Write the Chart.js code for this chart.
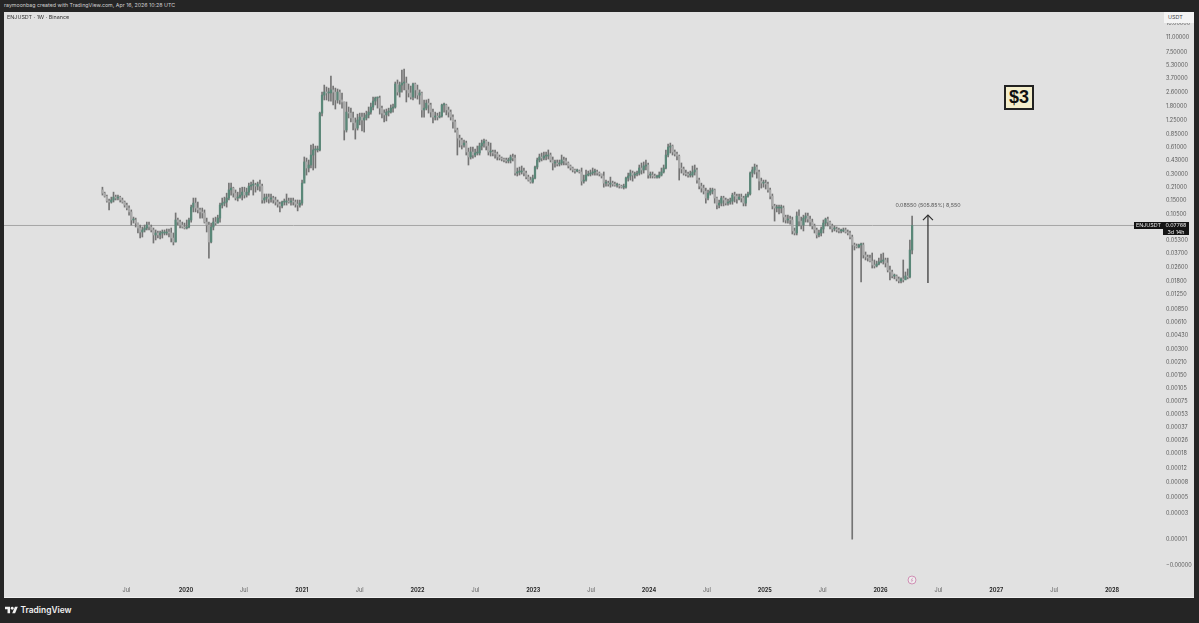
<!DOCTYPE html>
<html>
<head>
<meta charset="utf-8">
<title>ENJUSDT</title>
<script src="https://cdn.jsdelivr.net/npm/chart.js@4/dist/chart.umd.js"></script>
<style>
  html, body { margin: 0; height: 100%; background: #252525; overflow: hidden; font-family: Inter, Roboto, sans-serif; }
  /* the reference is a downscaled screenshot, everything in it is a bit soft */
  body { filter: blur(.35px); }
  #stage { position: absolute; left: 4px; top: 12px; width: 1190px; height: 586px; background: #e1e1e1; box-shadow: inset 0 -1px 0 #f0f0f0; }
  #stage canvas { display: block; }
  .note { position: absolute; white-space: nowrap; line-height: 1; }
  .tag { position: absolute; background: #141414; color: #e8e8e8; font-size: 5.4px; line-height: 7px; text-align: center; }
</style>
</head>
<body>
<div class="note" style="left:4px;top:3px;font-size:5.3px;color:#d0d0d0">raymoonbag created with TradingView.com, Apr 16, 2026 10:28 UTC</div>
<div id="stage"><canvas id="chart" width="1190" height="586"></canvas></div>
<div class="note" style="left:7px;top:14.5px;font-size:5.4px;color:#333">ENJUSDT · 1W · Binance</div>
<div class="note" style="left:1164px;top:12px;width:30px;height:11px;background:#f4f4f4;font-size:5.4px;line-height:11px;color:#444;text-indent:4px">USDT</div>
<div class="note" style="left:895px;top:202.5px;width:66px;text-align:center;font-size:5.3px;color:#555">0.08550 (505.85%) 8,550</div>
<div class="tag" style="left:1134px;top:222px;width:29px;height:7px">ENJUSDT</div>
<div class="tag" style="left:1163px;top:222px;width:26px;height:13px">0.07768<br>3d 14h</div>
<div class="note" style="left:1004px;top:85px;width:26px;height:21px;border:2px solid #222;background:#f4eecb;font:bold 18px/21px 'Liberation Sans',sans-serif;color:#111;text-align:center">$3</div>
<svg style="position:absolute;left:907px;top:575px" width="10" height="10" viewBox="0 0 10 10"><circle cx="5" cy="5" r="4" fill="#eee" stroke="#cf8fb4" stroke-width="1"/><path d="M6 2.6 L4 5.2 H6 L4 7.4" fill="none" stroke="#cf8fb4" stroke-width="0.7"/></svg>
<svg style="position:absolute;left:5px;top:606px" width="13" height="8" viewBox="0 2 36 22"><path fill="#f2f2f2" d="M14 22H7V11H0V4h14v18zM28 22h-8l7.5-18h8L28 22z"/><circle fill="#f2f2f2" cx="20" cy="8" r="4"/></svg>
<div class="note" style="left:20.5px;top:606px;font-size:8.4px;font-weight:600;color:#f2f2f2">TradingView</div>
<script>
const opens = [.198,.182,.168,.148,.144,.152,.164,.16,.164,.152,.144,.133,.123,.111,.0897,.0897,.0828,.0726,.0654,.069,.0726,.0786,.0746,.069,.0605,.0637,.0605,.0637,.0637,.0637,.0654,.0637,.0558,.0503,.0897,.085,.0786,.0746,.0726,.0746,.0897,.126,.14,.123,.117,.111,.108,.085,.0786,.0503,.0746,.085,.0828,.0944,.133,.14,.144,.16,.198,.208,.182,.16,.164,.173,.187,.173,.187,.219,.225,.225,.219,.231,.219,.152,.16,.164,.156,.16,.152,.144,.136,.13,.144,.144,.148,.144,.148,.144,.136,.133,.14,.237,.414,.353,.382,.497,.568,.568,.568,1.5,2.41,2.61,2.55,2.55,2.76,2.61,2.12,2.61,2.12,2.01,.96,1.54,1.5,1.32,1.16,1.01,1.25,1.35,1.25,1.32,1.43,1.54,1.76,2.06,2.23,2.23,1.71,1.5,1.43,1.54,1.54,1.71,1.76,3.23,2.61,3.14,3.31,3.31,2.76,2.55,2.29,3.23,2.76,2.41,2.55,1.63,1.71,1.95,1.86,1.54,1.35,1.39,1.35,1.39,1.86,1.86,1.63,1.54,1.35,1.19,.96,.776,.738,.647,.681,.538,.472,.538,.497,.524,.524,.63,.681,.718,.63,.538,.538,.524,.51,.472,.459,.447,.436,.425,.436,.472,.459,.309,.318,.318,.326,.309,.278,.257,.244,.271,.362,.436,.472,.459,.484,.484,.497,.436,.403,.403,.392,.403,.436,.425,.403,.372,.353,.335,.326,.326,.318,.25,.257,.293,.301,.309,.318,.318,.309,.301,.286,.237,.237,.231,.237,.231,.225,.225,.219,.213,.213,.271,.286,.309,.293,.301,.309,.353,.335,.372,.382,.293,.293,.286,.278,.278,.293,.318,.353,.497,.613,.63,.538,.51,.484,.353,.344,.309,.301,.293,.293,.318,.335,.257,.219,.208,.192,.16,.182,.192,.198,.16,.133,.14,.16,.152,.14,.144,.148,.173,.168,.156,.164,.16,.14,.168,.178,.309,.335,.362,.318,.25,.237,.237,.231,.198,.168,.13,.123,.123,.123,.123,.0969,.0897,.0919,.0897,.0672,.0637,.0995,.0872,.0786,.0944,.0995,.0919,.085,.0766,.069,.0605,.0637,.0708,.0828,.0919,.085,.0766,.0708,.0708,.069,.0672,.0672,.069,.0654,.0637,.0573,.0465,.0453,.0441,.0465,.0465,.0357,.0338,.0329,.0304,.0274,.0267,.0281,.0297,.0304,.0313,.0289,.024,.0228,.0205,.0205,.019,.018,.019,.0185,.0205,.02,.0407];
const highs = [.213,.187,.173,.156,.164,.187,.173,.173,.168,.16,.148,.14,.13,.117,.0969,.0944,.0828,.0786,.0746,.0786,.085,.085,.0786,.0726,.069,.0672,.0672,.069,.069,.0708,.0708,.0726,.0637,.108,.0944,.0897,.085,.0828,.0897,.0944,.133,.16,.16,.144,.123,.123,.117,.0944,.085,.0828,.0944,.0969,.102,.14,.16,.164,.182,.237,.237,.213,.198,.187,.208,.213,.213,.208,.237,.244,.257,.237,.244,.257,.231,.178,.178,.178,.178,.168,.164,.152,.144,.148,.156,.178,.16,.16,.16,.152,.152,.152,.257,.472,.459,.436,.647,.664,.63,.63,1.54,2.61,3.14,2.98,2.9,3.98,3.06,2.9,2.83,2.76,2.55,2.01,2.01,1.76,1.71,1.54,1.32,1.46,1.5,1.5,1.5,1.58,1.76,1.95,2.29,2.29,2.29,2.35,1.81,1.63,1.67,1.71,1.86,1.9,3.4,3.59,3.4,4.66,4.78,3.88,3.23,3.06,3.31,3.31,3.14,2.76,2.61,2.12,2.12,2.17,1.95,1.67,1.54,1.5,1.54,1.9,1.95,1.9,1.76,1.63,1.43,1.25,1.01,.84,.776,.738,.718,.597,.613,.613,.582,.63,.681,.738,.756,.738,.699,.681,.568,.568,.538,.497,.472,.459,.459,.459,.497,.51,.497,.353,.362,.372,.353,.326,.293,.278,.293,.372,.459,.51,.524,.538,.538,.568,.524,.472,.436,.436,.436,.497,.472,.459,.414,.382,.362,.344,.344,.335,.353,.293,.335,.326,.335,.353,.344,.335,.318,.301,.318,.257,.25,.278,.25,.244,.237,.231,.225,.231,.278,.309,.335,.326,.318,.326,.382,.403,.414,.436,.403,.318,.318,.301,.293,.318,.353,.382,.568,.664,.681,.647,.568,.538,.497,.403,.362,.335,.318,.326,.372,.382,.353,.271,.237,.225,.208,.198,.208,.208,.203,.164,.152,.168,.168,.16,.156,.16,.182,.187,.178,.178,.178,.168,.178,.187,.318,.362,.392,.382,.335,.271,.257,.257,.244,.208,.178,.136,.133,.133,.133,.13,.102,.102,.0995,.0969,.0726,.111,.117,.0969,.102,.108,.108,.0995,.0919,.0806,.0726,.069,.0746,.0897,.0944,.0969,.0872,.0806,.0766,.0746,.0726,.0708,.0726,.0726,.069,.0672,.0605,.0489,.0477,.0477,.0489,.0489,.0386,.0357,.0357,.0376,.0313,.0304,.0329,.0366,.0376,.0329,.0329,.0267,.024,.0216,.0211,.02,.0195,.0313,.0228,.0247,.053,.0995];
const lows = [.173,.164,.144,.117,.14,.144,.152,.152,.144,.14,.126,.117,.102,.0786,.0828,.0746,.0637,.0558,.0573,.0654,.069,.069,.0654,.0489,.053,.0558,.0544,.0558,.0605,.0605,.0573,.0503,.0465,.0503,.0786,.0726,.0726,.0708,.0708,.0726,.085,.111,.111,.108,.0944,.0944,.0828,.0654,.0329,.0489,.069,.0786,.0828,.085,.123,.13,.126,.152,.173,.164,.152,.148,.16,.152,.16,.164,.173,.198,.173,.187,.198,.192,.14,.14,.144,.14,.144,.14,.133,.126,.111,.123,.133,.133,.14,.133,.133,.126,.114,.126,.133,.271,.293,.318,.353,.335,.353,.538,.553,1.39,2.12,2.12,2.06,2.06,1.86,1.67,1.95,1.9,1.71,.738,.91,1.32,1.19,.96,.756,.96,1.1,.935,.91,1.25,1.32,1.46,1.63,1.86,1.71,1.46,1.32,1.19,1.22,1.39,1.5,1.54,1.71,2.41,2.29,2.61,2.76,2.01,2.29,2.17,2.12,2.23,2.17,1.9,1.35,1.35,1.63,1.5,1.35,1.16,1.25,1.25,1.32,1.35,1.54,1.43,1.35,1.25,1.01,.91,.497,.613,.582,.613,.497,.382,.447,.459,.472,.497,.497,.568,.613,.568,.497,.484,.484,.459,.436,.436,.425,.414,.403,.403,.403,.425,.293,.286,.293,.301,.286,.264,.25,.237,.237,.264,.344,.414,.425,.436,.436,.447,.414,.335,.362,.372,.372,.382,.382,.382,.353,.335,.318,.309,.318,.309,.225,.237,.25,.286,.286,.293,.293,.293,.286,.271,.213,.219,.219,.213,.219,.219,.213,.208,.208,.203,.208,.25,.257,.25,.271,.286,.293,.301,.309,.335,.271,.271,.271,.271,.271,.271,.286,.309,.344,.472,.524,.497,.484,.436,.257,.309,.293,.286,.278,.278,.278,.293,.237,.203,.187,.178,.14,.152,.173,.178,.14,.12,.123,.13,.13,.133,.133,.136,.136,.144,.14,.152,.144,.13,.13,.164,.173,.278,.301,.271,.198,.208,.213,.203,.187,.156,.12,.0872,.111,.105,.108,.085,.0828,.0828,.0806,.062,.0605,.0605,.0766,.0708,.0672,.085,.085,.0766,.0708,.0637,.0558,.0573,.0589,.0637,.0766,.0766,.0708,.0654,.0672,.0654,.0637,.0637,.0654,.0637,.0605,.0544,.00001,.0407,.0429,.0429,.0175,.0329,.0313,.0304,.0297,.0253,.0253,.026,.0274,.0289,.0281,.026,.0228,.0185,.0195,.019,.018,.0171,.0171,.0175,.019,.019,.0195,.0366];
const closes = [.182,.168,.148,.144,.152,.164,.16,.164,.152,.144,.133,.123,.111,.0897,.0897,.0828,.0726,.0654,.069,.0726,.0786,.0746,.069,.0605,.0637,.0605,.0637,.0637,.0637,.0654,.0637,.0558,.0503,.0897,.085,.0786,.0746,.0726,.0746,.0897,.126,.14,.123,.117,.111,.108,.085,.0786,.0503,.0746,.085,.0828,.0944,.133,.14,.144,.16,.198,.208,.182,.16,.164,.173,.187,.173,.187,.219,.225,.225,.219,.231,.219,.152,.16,.164,.156,.16,.152,.144,.136,.13,.144,.144,.148,.144,.148,.144,.136,.133,.14,.237,.414,.353,.382,.497,.568,.568,.568,1.5,2.41,2.61,2.55,2.55,2.76,2.61,2.12,2.61,2.12,2.01,.96,1.54,1.5,1.32,1.16,1.01,1.25,1.35,1.25,1.32,1.43,1.54,1.76,2.06,2.23,2.23,1.71,1.5,1.43,1.54,1.54,1.71,1.76,3.23,2.61,3.14,3.31,3.31,2.76,2.55,2.29,3.23,2.76,2.41,2.55,1.63,1.71,1.95,1.86,1.54,1.35,1.39,1.35,1.39,1.86,1.86,1.63,1.54,1.35,1.19,.96,.776,.738,.647,.681,.538,.472,.538,.497,.524,.524,.63,.681,.718,.63,.538,.538,.524,.51,.472,.459,.447,.436,.425,.436,.472,.459,.309,.318,.318,.326,.309,.278,.257,.244,.271,.362,.436,.472,.459,.484,.484,.497,.436,.403,.403,.392,.403,.436,.425,.403,.372,.353,.335,.326,.326,.318,.25,.257,.293,.301,.309,.318,.318,.309,.301,.286,.237,.237,.231,.237,.231,.225,.225,.219,.213,.213,.271,.286,.309,.293,.301,.309,.353,.335,.372,.382,.293,.293,.286,.278,.278,.293,.318,.353,.497,.613,.63,.538,.51,.484,.353,.344,.309,.301,.293,.293,.318,.335,.257,.219,.208,.192,.16,.182,.192,.198,.16,.133,.14,.16,.152,.14,.144,.148,.173,.168,.156,.164,.16,.14,.168,.178,.309,.335,.362,.318,.25,.237,.237,.231,.198,.168,.13,.123,.123,.123,.123,.0969,.0897,.0919,.0897,.0672,.0637,.0995,.0872,.0786,.0944,.0995,.0919,.085,.0766,.069,.0605,.0637,.0708,.0828,.0919,.085,.0766,.0708,.0708,.069,.0672,.0672,.069,.0654,.0637,.0573,.0465,.0453,.0441,.0465,.0465,.0357,.0338,.0329,.0304,.0274,.0267,.0281,.0297,.0304,.0313,.0289,.024,.0228,.0205,.0205,.019,.018,.019,.0185,.0205,.02,.0407,.0777];
const yTickValues = [16, 11, 7.5, 5.3, 3.7, 2.6, 1.8, 1.25, .85, .61, .43, .3, .21, .15, .105, .053, .037, .026, .018, .0125, .0085, .0061, .0043, .003, .0021, .0015, .00105, .00075, .00053, .00037, .00026, .00018, .00012, .00008, .00005, .00003, .00001, 0];
const yTickLabels = ['16.00000', '11.00000', '7.50000', '5.30000', '3.70000', '2.60000', '1.80000', '1.25000', '0.85000', '0.61000', '0.43000', '0.30000', '0.21000', '0.15000', '0.10500', '0.05300', '0.03700', '0.02600', '0.01800', '0.01250', '0.00850', '0.00610', '0.00430', '0.00300', '0.00210', '0.00150', '0.00105', '0.00075', '0.00053', '0.00037', '0.00026', '0.00018', '0.00012', '0.00008', '0.00005', '0.00003', '0.00001', '\u22120.00000'];
const xTickValues = [2019.485, 2020, 2020.5, 2021, 2021.5, 2022, 2022.5, 2023, 2023.5, 2024, 2024.5, 2025, 2025.5, 2026, 2026.5, 2027, 2027.5, 2028];
const xTickLabels = ['Jul', '2020', 'Jul', '2021', 'Jul', '2022', 'Jul', '2023', 'Jul', '2024', 'Jul', '2025', 'Jul', '2026', 'Jul', '2027', 'Jul', '2028'];
const lastPrice = 0.07768;
const measureFrom = 0.0171;
const measureTo = 0.102;
const measureYear = 2026.41;
const firstWeek = 2019.278;
const weekInYears = 7 / 365.25;
const xMin = 2018.4276;
const xMax = 2028.432;

// tradingview log mode is log(price + c), that's why the bottom labels bunch up less
const PRICE_SHIFT = 0.00001;
class ShiftedLogScale extends Chart.LogarithmicScale {
  getPixelForValue(value) {
    return super.getPixelForValue(value + PRICE_SHIFT);
  }
  getValueForPixel(pixel) {
    return super.getValueForPixel(pixel) - PRICE_SHIFT;
  }
}
ShiftedLogScale.id = 'shiftedLog';
ShiftedLogScale.defaults = Chart.LogarithmicScale.defaults;
Chart.register(ShiftedLogScale);

const weekX = (i) => firstWeek + i * weekInYears;
const isMonth = (c) => c.tick?.label === 'Jul';

const arrowHead = {
  id: 'arrowHead',
  afterDatasetsDraw(chart) {
    const x = chart.scales.x.getPixelForValue(measureYear);
    const y = chart.scales.y.getPixelForValue(measureTo);
    const { ctx } = chart;
    ctx.save();
    ctx.strokeStyle = '#2e2e2e';
    ctx.lineWidth = 1.2;
    ctx.beginPath();
    ctx.moveTo(x - 5, y + 5);
    ctx.lineTo(x, y);
    ctx.lineTo(x + 5, y + 5);
    ctx.stroke();
    ctx.restore();
  },
};

new Chart(document.getElementById('chart'), {
  type: 'bar',
  data: {
    datasets: [
      {
        label: 'wick',
        data: highs.map((high, i) => ({ x: weekX(i), y: [lows[i], high] })),
        backgroundColor: '#747474',
        barThickness: 1,
        grouped: false,
        order: 3,
      },
      {
        label: 'body',
        data: opens.map((open, i) => ({ x: weekX(i), y: [open, closes[i]] })),
        backgroundColor: opens.map((open, i) => (closes[i] >= open ? '#5a8778' : '#a9a9a9')),
        barThickness: 1.6,
        minBarLength: 1,
        grouped: false,
        order: 2,
      },
      {
        type: 'line',
        label: 'last',
        data: [{ x: xMin, y: lastPrice }, { x: xMax, y: lastPrice }],
        borderColor: '#a5a5a5',
        borderWidth: 1,
        pointRadius: 0,
        order: 4,
      },
      {
        type: 'line',
        label: 'measure',
        data: [{ x: measureYear, y: measureFrom }, { x: measureYear, y: measureTo }],
        borderColor: '#2e2e2e',
        borderWidth: 1.2,
        pointRadius: 0,
        order: 1,
      },
    ],
  },
  options: {
    responsive: false,
    animation: false,
    events: [],
    layout: { padding: 0, autoPadding: false },
    plugins: { legend: { display: false }, tooltip: { enabled: false } },
    scales: {
      x: {
        type: 'linear',
        offset: false,
        min: xMin,
        max: xMax,
        bounds: 'data',
        grid: { display: false, offset: false, drawTicks: false },
        border: { display: false },
        afterBuildTicks: (scale) => { scale.ticks = xTickValues.map((value) => ({ value })); },
        afterFit: (scale) => {
          scale.height = 14;
          scale.paddingLeft = 0;
          scale.paddingRight = 0;
        },
        ticks: {
          autoSkip: false,
          maxRotation: 0,
          padding: 3.5,
          callback: (value, i) => xTickLabels[i],
          color: (c) => (isMonth(c) ? '#5a5a5a' : '#2b2b2b'),
          font: (c) => ({ family: 'Inter, Roboto, sans-serif', size: 5.5, weight: isMonth(c) ? 'normal' : 'bold' }),
        },
      },
      y: {
        type: 'shiftedLog',
        position: 'right',
        min: 0.00000614,
        max: 21.52,
        bounds: 'data',
        beginAtZero: false,
        grid: { display: false, drawTicks: false },
        border: { display: false },
        afterBuildTicks: (scale) => { scale.ticks = yTickValues.map((value) => ({ value })); },
        afterFit: (scale) => {
          scale.width = 32;
          // the axis asks for room for half a label, that would squeeze the scale
          scale.paddingTop = 0;
          scale.paddingBottom = 0;
        },
        ticks: {
          autoSkip: false,
          padding: 4,
          callback: (value, i) => yTickLabels[i],
          color: '#5a5a5a',
          font: { family: 'Inter, Roboto, sans-serif', size: 5.5 },
        },
      },
    },
  },
  plugins: [arrowHead],
});
</script>
</body>
</html>
